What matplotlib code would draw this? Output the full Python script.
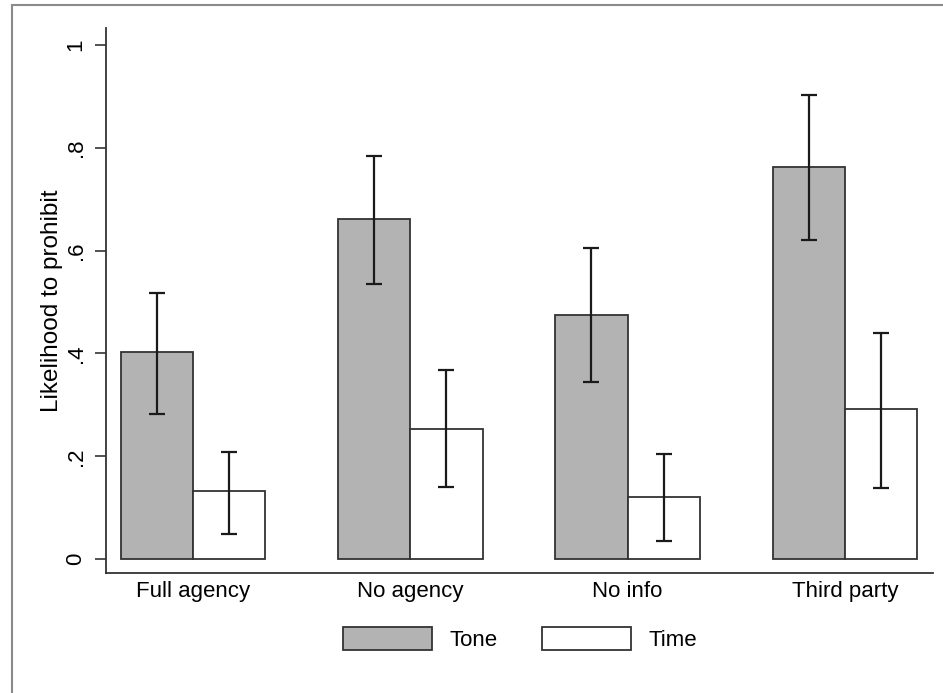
import matplotlib
matplotlib.use("Agg")
import matplotlib.pyplot as plt
import numpy as np
from matplotlib.patches import Rectangle

categories = ["Full agency", "No agency", "No info", "Third party"]
tone = [0.402, 0.661, 0.475, 0.762]
tone_lo = [0.282, 0.535, 0.344, 0.620]
tone_hi = [0.517, 0.784, 0.605, 0.903]
time = [0.132, 0.254, 0.120, 0.292]
time_lo = [0.049, 0.140, 0.035, 0.138]
time_hi = [0.208, 0.368, 0.204, 0.440]
yticks = [0, 0.2, 0.4, 0.6, 0.8, 1.0]
yticklabels = ["0", ".2", ".4", ".6", ".8", "1"]

plt.rcParams['font.family'] = ['Liberation Sans', 'DejaVu Sans']

fig = plt.figure(figsize=(9.43, 6.93), dpi=100)
# outer frame (partially visible)
fig.add_artist(Rectangle((12/943, -0.01), 1.0, 1 - 5/693 + 0.01, transform=fig.transFigure,
                         fill=False, edgecolor='#8a8a8a', linewidth=1.5))

ax = fig.add_axes([106/943, 1 - 573/693, (933 - 106)/943, (573 - 28)/693])
x = np.arange(len(categories))
w = 0.333
fill = '#b3b3b3'
edge = '#333333'
ax.bar(x - w/2, tone, width=w, color=fill, edgecolor=edge, linewidth=1.3, label='Tone', zorder=2)
ax.bar(x + w/2, time, width=w, color='white', edgecolor=edge, linewidth=1.3, label='Time', zorder=2)

t = np.array(tone); tl = np.array(tone_lo); th = np.array(tone_hi)
m = np.array(time); ml = np.array(time_lo); mh = np.array(time_hi)
ax.errorbar(x - w/2, t, yerr=[t - tl, th - t], fmt='none', ecolor='#1a1a1a',
            elinewidth=1.6, capsize=6, capthick=1.6, zorder=3)
ax.errorbar(x + w/2, m, yerr=[m - ml, mh - m], fmt='none', ecolor='#1a1a1a',
            elinewidth=1.6, capsize=6, capthick=1.6, zorder=3)

ax.set_xlim(-0.40, 3.405)
ax.set_ylim(-0.027, 1.033)
ax.set_yticks(yticks)
ax.set_yticklabels(yticklabels, rotation=90, va='center', fontsize=16)
ax.set_xticks(x)
ax.set_xticklabels(categories, fontsize=16)
ax.tick_params(axis='x', length=0, pad=6)
ax.tick_params(axis='y', length=8, width=1.2, color='#333333', pad=6)
for s in ['top', 'right']:
    ax.spines[s].set_visible(False)
for s in ['left', 'bottom']:
    ax.spines[s].set_color('#333333')
    ax.spines[s].set_linewidth(1.3)
ax.set_ylabel("Likelihood to prohibit", fontsize=17.5, labelpad=2)

leg = fig.legend(loc='center', bbox_to_anchor=(520/943, 1 - 639/693), ncol=2, frameon=False,
                 fontsize=16, handlelength=4.0, handleheight=1.2, columnspacing=2.0, handletextpad=0.8)
fig.savefig("out.png", dpi=100)
